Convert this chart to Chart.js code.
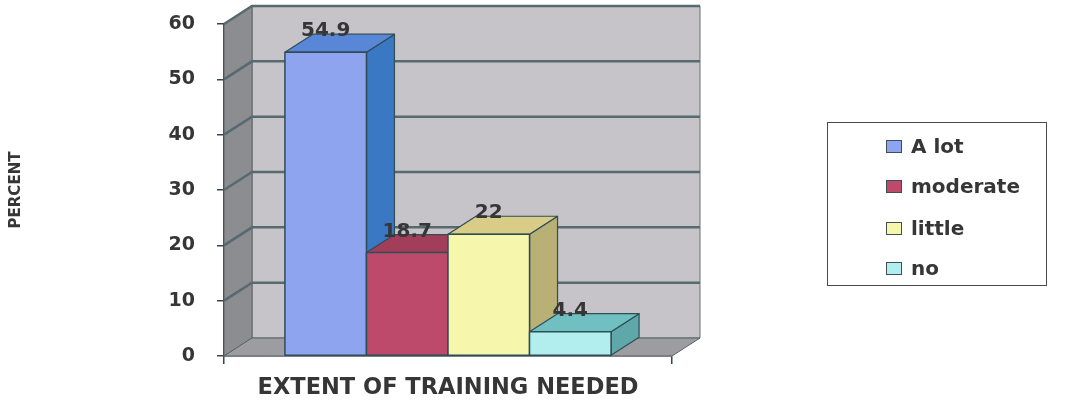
<!DOCTYPE html>
<html><head><meta charset="utf-8">
<script src="https://cdn.jsdelivr.net/npm/chart.js@4.4.1/dist/chart.umd.min.js"></script>
<style>
html,body{margin:0;padding:0;background:#fff;}
#wrap{position:relative;width:1080px;height:407px;}
#legend{position:absolute;left:827px;top:122px;width:220px;height:164px;border:1.5px solid #4a4a4a;box-sizing:border-box;font:bold 20px "DejaVu Sans";color:#363636;}
.item{position:absolute;left:58px;height:24px;display:flex;align-items:center;white-space:nowrap;}
.sw{width:14px;height:11px;border:1.5px solid #3e4e55;margin-right:9px;}
</style></head>
<body><div id="wrap"><canvas id="c" width="1080" height="407"></canvas><div id="legend"></div></div>
<script>
const categories = [''];
const seriesNames = ['A lot', 'moderate', 'little', 'no'];
const seriesValues = [54.9, 18.7, 22, 4.4];
const yTicks = [0, 10, 20, 30, 40, 50, 60];
const xTitle = 'EXTENT OF TRAINING NEEDED';
const yTitle = 'PERCENT';

const frontColors = ['#8ea4ef', '#be4a6b', '#f6f6ac', '#b2eeee'];
const topColors = ['#5a86d8', '#a23e5a', '#d8cc86', '#70c0c2'];
const sideColors = ['#3a78c4', '#8a3049', '#b8b074', '#5ea8aa'];
const edgeColor = '#2f4d57';

Chart.defaults.font.family = '"DejaVu Sans", sans-serif';

const DX = 28, DY = -18;
function poly(ctx, pts, fill, stroke, lw) {
  ctx.beginPath();
  ctx.moveTo(pts[0][0], pts[0][1]);
  for (let i = 1; i < pts.length; i++) ctx.lineTo(pts[i][0], pts[i][1]);
  ctx.closePath();
  ctx.fillStyle = fill; ctx.fill();
  if (stroke) { ctx.strokeStyle = stroke; ctx.lineWidth = lw || 1; ctx.stroke(); }
}

const threeD = {
  id: 'threeD',
  beforeDatasetsDraw(chart) {
    const {ctx, chartArea: a, scales: {y}} = chart;
    const y0 = y.getPixelForValue(yTicks[0]);
    const yT = y.getPixelForValue(yTicks[yTicks.length - 1]);
    ctx.save();
    poly(ctx, [[a.left + DX, yT + DY], [a.right + DX, yT + DY], [a.right + DX, y0 + DY], [a.left + DX, y0 + DY]], '#c6c4c9', '#6a6f72', 1);
    poly(ctx, [[a.left, yT], [a.left + DX, yT + DY], [a.left + DX, y0 + DY], [a.left, y0]], '#8b8d90', '#5d6266', 1);
    poly(ctx, [[a.left, y0], [a.left + DX, y0 + DY], [a.right + DX, y0 + DY], [a.right, y0]], '#9c9ca1', '#5d6266', 1);
    ctx.strokeStyle = '#566a70';
    ctx.lineWidth = 2.5;
    yTicks.forEach(v => {
      if (v === 0) return;
      const p = y.getPixelForValue(v);
      ctx.beginPath();
      ctx.moveTo(a.left, p);
      ctx.lineTo(a.left + DX, p + DY);
      ctx.lineTo(a.right + DX, p + DY);
      ctx.stroke();
    });
    ctx.restore();
  },
  afterDatasetsDraw(chart) {
    const ctx = chart.ctx;
    ctx.save();
    const bars = [];
    chart.data.datasets.forEach((ds, i) => {
      const el = chart.getDatasetMeta(i).data[0];
      const p = el.getProps(['x', 'y', 'base', 'width'], true);
      const L = p.x - p.width / 2, R = p.x + p.width / 2, T = p.y, B = p.base;
      bars.push({x: p.x, T, v: ds.data[0]});
      ctx.lineJoin = 'round';
      poly(ctx, [[R, T], [R + DX, T + DY], [R + DX, B + DY], [R, B]], sideColors[i], edgeColor, 1.2);
      poly(ctx, [[L, T], [L + DX, T + DY], [R + DX, T + DY], [R, T]], topColors[i], edgeColor, 1.2);
      poly(ctx, [[L, T], [R, T], [R, B], [L, B]], frontColors[i], edgeColor, 1.5);
    });
    ctx.font = 'bold 20px "DejaVu Sans"';
    ctx.fillStyle = '#363636';
    ctx.textAlign = 'center';
    ctx.textBaseline = 'alphabetic';
    bars.forEach(b => ctx.fillText(String(b.v), b.x, b.T - 16));
    ctx.restore();
  }
};

new Chart(document.getElementById('c'), {
  type: 'bar',
  data: {
    labels: categories,
    datasets: seriesNames.map((n, i) => ({
      label: n, data: [seriesValues[i]],
      backgroundColor: frontColors[i], borderColor: edgeColor, borderWidth: 1.5
    }))
  },
  options: {
    responsive: false, animation: false, devicePixelRatio: 1,
    layout: {padding: {top: 24, right: 408, left: 0, bottom: 0}},
    plugins: {legend: {display: false}, tooltip: {enabled: false}},
    datasets: {bar: {categoryPercentage: 0.728, barPercentage: 1}},
    scales: {
      x: {
        grid: {offset: true, drawOnChartArea: false, drawTicks: true, tickLength: 8, color: '#33464b', lineWidth: 1.5},
        border: {display: true, color: '#33464b', width: 1.5},
        ticks: {display: false},
        title: {display: true, text: xTitle, font: {size: 22.5, weight: 'bold'}, color: '#363636', padding: {top: 0, bottom: 5}},
        afterFit(s) { s.height = 51; s.paddingLeft = 0; s.paddingRight = 0; }
      },
      y: {
        min: 0, max: 60,
        afterBuildTicks(s) { s.ticks = yTicks.map(v => ({value: v})); },
        grid: {drawOnChartArea: false, drawTicks: true, tickLength: 7, color: '#33464b', lineWidth: 1.5},
        border: {display: true, color: '#33464b', width: 1.5},
        ticks: {padding: 22, font: {size: 19, weight: 'bold'}, color: '#363636'},
        title: {display: true, text: yTitle, font: {size: 15, weight: 'bold'}, color: '#363636', padding: {top: 7, bottom: 0}},
        afterFit(s) { s.width = 224; s.paddingTop = 0; s.paddingBottom = 0; }
      }
    }
  },
  plugins: [threeD]
});

const legendRowCenters = [23, 63, 105, 145];
const lg = document.getElementById('legend');
seriesNames.forEach((n, i) => {
  const it = document.createElement('div');
  it.className = 'item';
  it.style.top = (legendRowCenters[i] - 12) + 'px';
  const sw = document.createElement('span');
  sw.className = 'sw';
  sw.style.background = frontColors[i];
  const tx = document.createElement('span');
  tx.textContent = n;
  it.appendChild(sw); it.appendChild(tx);
  lg.appendChild(it);
});
</script>
</body></html>
